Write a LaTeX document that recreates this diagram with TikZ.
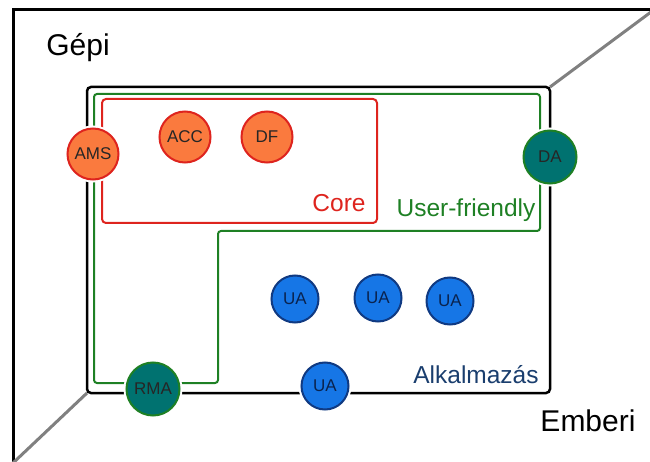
\documentclass[tikz,border=0pt]{standalone}
\usepackage{fontspec}
\setmainfont{Liberation Sans}
\definecolor{agorange}{RGB}{250,122,62}
\definecolor{agred}{RGB}{222,36,30}
\definecolor{agteal}{RGB}{0,114,112}
\definecolor{aggreen}{RGB}{30,128,36}
\definecolor{agblue}{RGB}{22,118,230}
\definecolor{agnavy}{RGB}{16,58,130}
\definecolor{appblue}{RGB}{26,62,110}
\tikzset{
  agent/.style={draw, shape=circle, inner sep=0pt, line width=2pt,
    preaction={draw=white, line width=6pt},
    font=\fontsize{17}{20}\selectfont, text=black!85},
  coreag/.style={agent, fill=agorange, draw=agred, minimum size=51pt},
  uiag/.style={agent, fill=agteal, draw=aggreen, minimum size=53pt},
  userag/.style={agent, fill=agblue, draw=agnavy, minimum size=47pt, text=agnavy!60!black},
  bigtxt/.style={inner sep=0pt, font=\fontsize{30}{36}\selectfont},
  midtxt/.style={inner sep=0pt, font=\fontsize{24.5}{29}\selectfont},
}
\def\agent(#1,#2,#3,#4,#5){
  \node[#1] (#2) at (#3,#4) {#5};
}

\begin{document}
\begin{tikzpicture}[x=1pt,y=-1pt]
\useasboundingbox (0,0) rectangle (650,462);
% outer frame and axis
\draw[line width=3pt] (651,10) -- (13,10) -- (13,463);
\draw[gray, line width=3pt] (550,87) -- (651,12);
\draw[gray, line width=3pt] (87,393) -- (13,463);
\node[bigtxt] (gepi) at (78,48) {Gépi};
\node[bigtxt] (emberi) at (588,421) {Emberi};
% application layer
\draw[line width=2.5pt, rounded corners=4pt] (87,87) rectangle (550,393);
\node[midtxt, text=appblue] (alk) at (476,375) {Alkalmazás};
% user-friendly layer
\draw[aggreen, line width=2pt, rounded corners=3pt]
  (94,94) -- (540,94) -- (540,231) -- (218,231) -- (218,383) -- (94,383) -- cycle;
\node[midtxt, text=aggreen] (uf) at (466,210) {User-friendly};
% core
\draw[agred, line width=2pt, rounded corners=4pt] (102,99) rectangle (377,223);
\node[midtxt, text=agred] (core) at (339,203) {Core};
% agents
\agent(coreag,ams,93,154,AMS)
\agent(coreag,acc,185,137,ACC)
\agent(coreag,df,267,137,DF)
\agent(uiag,da,550,157,DA)
\agent(uiag,rma,153,389,RMA)
\agent(userag,ua1,295,299,UA)
\agent(userag,ua2,378,298,UA)
\agent(userag,ua3,450,301,UA)
\agent(userag,ua4,325,386,UA)
\end{tikzpicture}
\end{document}
